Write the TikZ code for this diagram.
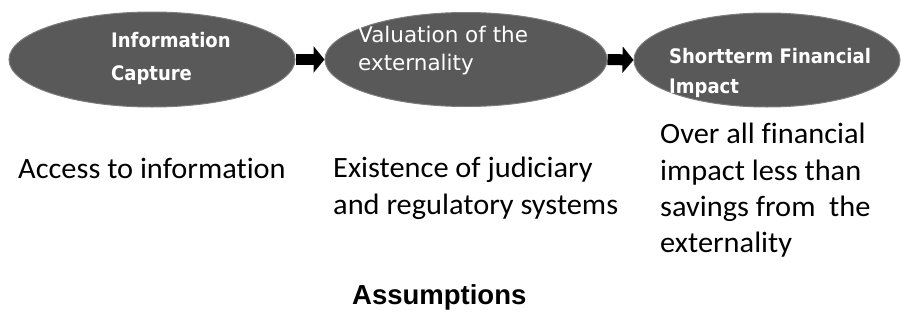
\documentclass[tikz,border=0pt]{standalone}
\usepackage{fontspec}
\setmainfont{Carlito}[Ligatures=NoCommon,FakeStretch=1.03]
\newfontfamily\ellfont{DejaVu Sans}
\newfontfamily\ellboldfont{DejaVu Sans Bold}[FakeStretch=0.9]
\newfontfamily\headfont{Liberation Sans}
\usetikzlibrary{shapes.geometric,arrows.meta}
\definecolor{ellgray}{RGB}{89,89,89}
\definecolor{ellline}{RGB}{125,125,125}
\tikzset{
  oval/.style={ellipse, fill=ellgray, draw=ellline, line width=1pt, inner sep=0pt},
  ovaltext/.style={anchor=base west, inner sep=0pt, text=white, font=\ellboldfont\fontsize{20}{22}\selectfont},
  ovaltextreg/.style={anchor=base west, inner sep=0pt, text=white, font=\ellfont\fontsize{21.5}{24}\selectfont},
  lowtext/.style={anchor=base west, inner sep=0pt, font=\fontsize{29.5}{36}\selectfont},
  flow/.style={line width=11pt, -{Triangle[length=11pt,width=26pt]}, black}
}
\begin{document}
\begin{tikzpicture}[x=1pt,y=-1pt]
\useasboundingbox (0,0) rectangle (901,332);
\node[oval, minimum width=286pt, minimum height=95pt] (e1) at (152,59.5) {};
\node[oval, minimum width=282pt, minimum height=94pt] (e2) at (466,59.5) {};
\node[oval, minimum width=266pt, minimum height=94pt] (e3) at (767,60) {};
\draw[flow] (e1.east) -- (e2.west);
\draw[flow] (e2.east) -- (e3.west);
\node[ovaltext] (t1a) at (111,47) {Information};
\node[ovaltext] (t1b) at (111,80) {Capture};
\node[ovaltextreg] (t2a) at (358,42) {Valuation of the};
\node[ovaltextreg] (t2b) at (358,70) {externality};
\node[ovaltext] (t3a) at (669,63) {Shortterm Financial};
\node[ovaltext] (t3b) at (669,93) {Impact};
\node[lowtext] (l1) at (18,178) {Access to information};
\node[lowtext] (l2a) at (333,177) {Existence of judiciary};
\node[lowtext] (l2b) at (333,214) {and regulatory systems};
\node[lowtext] (l3a) at (660,143) {Over all financial};
\node[lowtext] (l3b) at (660,180) {impact less than};
\node[lowtext] (l3c) at (660,216) {savings from \ the};
\node[lowtext] (l3d) at (660,252) {externality};
\node[anchor=base west, inner sep=0pt, font=\headfont\fontsize{27.5}{30}\selectfont\bfseries] (as) at (352,304) {Assumptions};
\end{tikzpicture}
\end{document}
